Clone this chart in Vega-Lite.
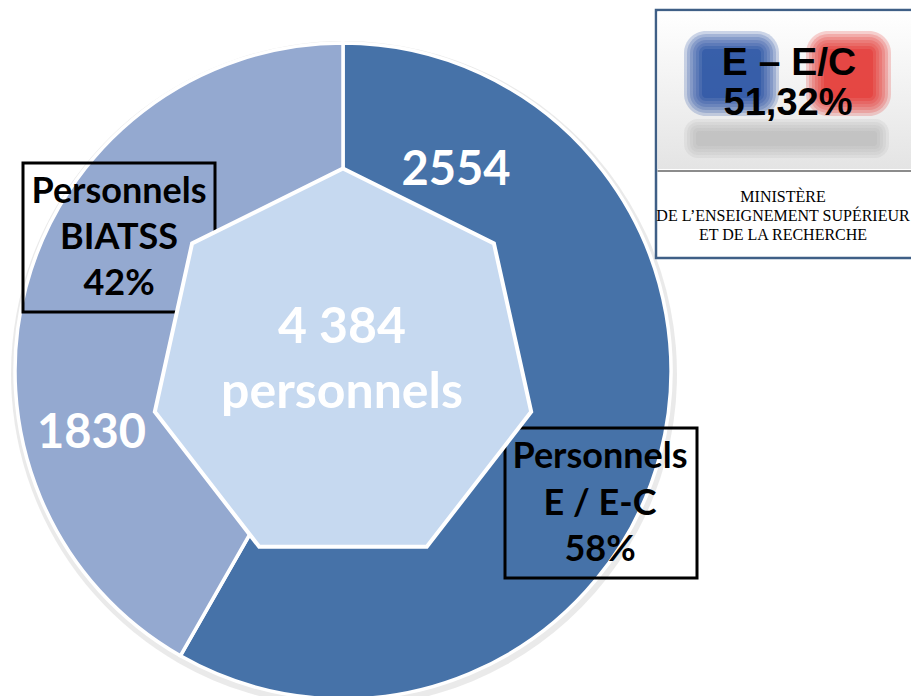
{
  "$schema": "https://vega.github.io/schema/vega-lite/v6.json",
  "width": 911,
  "height": 696,
  "autosize": "none",
  "padding": 0,
  "background": "white",
  "config": {
    "view": {"stroke": null},
    "locale": {"number": {"decimal": ",", "thousands": " ", "grouping": [3], "currency": ["", " €"]}}
  },
  "layer": [
    {
      "data": {"values": [
        {"categorie": "Personnels E / E-C", "effectif": 2554, "libelle": "Personnels\nE / E-C\n58%"},
        {"categorie": "Personnels BIATSS", "effectif": 1830, "libelle": "Personnels\nBIATSS\n42%"}
      ]},
      "transform": [
        {"stack": "effectif", "groupby": [], "sort": [{"field": "effectif", "order": "descending"}], "as": ["debut", "fin"]}
      ],
      "layer": [
        {
          "mark": {"type": "arc", "radius": 333, "fill": "#c4c4c4", "opacity": 0.35},
          "encoding": {
            "x": {"value": 344},
            "y": {"value": 374},
            "theta": {"field": "fin", "type": "quantitative", "stack": null, "scale": {"nice": false, "zero": true}},
            "theta2": {"field": "debut"}
          }
        },
        {
          "mark": {"type": "arc", "radius": 328, "stroke": "white", "strokeWidth": 3.5},
          "encoding": {
            "x": {"value": 343},
            "y": {"value": 371},
            "theta": {"field": "fin", "type": "quantitative", "stack": null, "scale": {"nice": false, "zero": true}},
            "theta2": {"field": "debut"},
            "color": {
              "field": "categorie",
              "type": "nominal",
              "scale": {"domain": ["Personnels E / E-C", "Personnels BIATSS"], "range": ["#4672A8", "#94A9D0"]},
              "legend": null
            }
          }
        },
        {
          "transform": [{"filter": "datum.categorie === 'Personnels BIATSS'"}],
          "layer": [
            {
              "mark": {"type": "rect", "fill": "transparent", "stroke": "black", "strokeWidth": 3},
              "encoding": {"x": {"value": 23}, "x2": {"value": 215}, "y": {"value": 163}, "y2": {"value": 312}}
            },
            {
              "mark": {"type": "text", "font": "Lato", "fontWeight": "bold", "fontSize": 36, "lineBreak": "\n", "lineHeight": 46, "align": "center", "baseline": "middle", "color": "black"},
              "encoding": {"x": {"value": 119}, "y": {"value": 192}, "text": {"field": "libelle", "type": "nominal"}}
            }
          ]
        },
        {
          "transform": [{"filter": "datum.categorie === 'Personnels E / E-C'"}],
          "layer": [
            {
              "mark": {"type": "rect", "fill": "transparent", "stroke": "black", "strokeWidth": 3},
              "encoding": {"x": {"value": 505}, "x2": {"value": 697}, "y": {"value": 428}, "y2": {"value": 578}}
            },
            {
              "mark": {"type": "text", "font": "Lato", "fontWeight": "bold", "fontSize": 36, "lineBreak": "\n", "lineHeight": 46.5, "align": "center", "baseline": "middle", "color": "black"},
              "encoding": {"x": {"value": 600}, "y": {"value": 457}, "text": {"field": "libelle", "type": "nominal"}}
            }
          ]
        },
        {
          "transform": [{"aggregate": [{"op": "sum", "field": "effectif", "as": "total"}]}],
          "layer": [
            {
              "mark": {
                "type": "point",
                "shape": "M0,-1L0.7583,-0.6235L0.9457,0.2225L0.4209,0.901L-0.4209,0.901L-0.9457,0.2225L-0.7583,-0.6235Z",
                "size": 158404,
                "filled": true,
                "fill": "#C6D9F0",
                "stroke": "white",
                "strokeWidth": 4,
                "opacity": 1
              },
              "encoding": {"x": {"value": 343}, "y": {"value": 367.5}}
            },
            {
              "mark": {"type": "text", "font": "Lato", "fontWeight": "bold", "fontSize": 50, "align": "center", "baseline": "alphabetic", "color": "white"},
              "encoding": {"x": {"value": 342}, "y": {"value": 343}, "text": {"field": "total", "type": "quantitative", "format": ",d"}}
            },
            {
              "mark": {"type": "text", "font": "Lato", "fontWeight": "bold", "fontSize": 50, "align": "center", "baseline": "alphabetic", "color": "white"},
              "encoding": {"x": {"value": 342}, "y": {"value": 408}, "text": {"value": "personnels"}}
            }
          ]
        },
        {
          "transform": [{"filter": "datum.categorie === 'Personnels E / E-C'"}],
          "mark": {"type": "text", "font": "Lato", "fontWeight": "bold", "fontSize": 47, "align": "center", "baseline": "alphabetic", "color": "white", "radius": 217.6, "thetaOffset": 0.5463},
          "encoding": {
            "x": {"value": 343},
            "y": {"value": 371},
            "theta": {"field": "debut", "type": "quantitative", "stack": null, "scale": {"nice": false, "zero": true}},
            "text": {"field": "effectif", "type": "quantitative", "format": "d"}
          }
        },
        {
          "transform": [{"filter": "datum.categorie === 'Personnels BIATSS'"}],
          "mark": {"type": "text", "font": "Lato", "fontWeight": "bold", "fontSize": 47, "align": "center", "baseline": "alphabetic", "color": "white", "radius": 263, "thetaOffset": 0.7557},
          "encoding": {
            "x": {"value": 343},
            "y": {"value": 371},
            "theta": {"field": "debut", "type": "quantitative", "stack": null, "scale": {"nice": false, "zero": true}},
            "text": {"field": "effectif", "type": "quantitative", "format": "d"}
          }
        }
      ]
    },
    {
      "data": {"values": [
        {"titre": "E – E/C", "taux": "51,32%", "ministere": "MINISTÈRE\nDE L’ENSEIGNEMENT SUPÉRIEUR\nET DE LA RECHERCHE"}
      ]},
      "layer": [
        {
          "mark": {"type": "rect", "fill": "white", "stroke": "#3f5f86", "strokeWidth": 2.5},
          "encoding": {"x": {"value": 656}, "x2": {"value": 918}, "y": {"value": 10}, "y2": {"value": 258}}
        },
        {
          "mark": {"type": "rect", "fill": {"gradient": "linear", "x1": 0, "y1": 0, "x2": 0, "y2": 1, "stops": [{"offset": 0, "color": "#ffffff"}, {"offset": 1, "color": "#e4e4e4"}]}},
          "encoding": {"x": {"value": 657.5}, "x2": {"value": 911}, "y": {"value": 11.5}, "y2": {"value": 169}}
        },
        {"mark": {"type": "rect", "fill": "#1f4b9f", "opacity": 0.22, "cornerRadius": 22}, "encoding": {"x": {"value": 684}, "x2": {"value": 779}, "y": {"value": 31}, "y2": {"value": 116}}},
        {"mark": {"type": "rect", "fill": "#1f4b9f", "opacity": 0.22, "cornerRadius": 19}, "encoding": {"x": {"value": 687}, "x2": {"value": 776}, "y": {"value": 34}, "y2": {"value": 113}}},
        {"mark": {"type": "rect", "fill": "#1f4b9f", "opacity": 0.22, "cornerRadius": 16}, "encoding": {"x": {"value": 690}, "x2": {"value": 773}, "y": {"value": 37}, "y2": {"value": 110}}},
        {"mark": {"type": "rect", "fill": "#1f4b9f", "opacity": 0.22, "cornerRadius": 13}, "encoding": {"x": {"value": 693}, "x2": {"value": 770}, "y": {"value": 40}, "y2": {"value": 107}}},
        {"mark": {"type": "rect", "fill": "#1f4b9f", "opacity": 0.22, "cornerRadius": 10}, "encoding": {"x": {"value": 696}, "x2": {"value": 767}, "y": {"value": 43}, "y2": {"value": 104}}},
        {"mark": {"type": "rect", "fill": "#1f4b9f", "opacity": 0.3, "cornerRadius": 7}, "encoding": {"x": {"value": 699}, "x2": {"value": 764}, "y": {"value": 46}, "y2": {"value": 101}}},
        {"mark": {"type": "rect", "fill": "#1f4b9f", "opacity": 0.4, "cornerRadius": 4}, "encoding": {"x": {"value": 702}, "x2": {"value": 761}, "y": {"value": 49}, "y2": {"value": 98}}},
        {"mark": {"type": "rect", "fill": "#e4302c", "opacity": 0.22, "cornerRadius": 22}, "encoding": {"x": {"value": 806}, "x2": {"value": 891}, "y": {"value": 31}, "y2": {"value": 116}}},
        {"mark": {"type": "rect", "fill": "#e4302c", "opacity": 0.22, "cornerRadius": 19}, "encoding": {"x": {"value": 809}, "x2": {"value": 888}, "y": {"value": 34}, "y2": {"value": 113}}},
        {"mark": {"type": "rect", "fill": "#e4302c", "opacity": 0.22, "cornerRadius": 16}, "encoding": {"x": {"value": 812}, "x2": {"value": 885}, "y": {"value": 37}, "y2": {"value": 110}}},
        {"mark": {"type": "rect", "fill": "#e4302c", "opacity": 0.22, "cornerRadius": 13}, "encoding": {"x": {"value": 815}, "x2": {"value": 882}, "y": {"value": 40}, "y2": {"value": 107}}},
        {"mark": {"type": "rect", "fill": "#e4302c", "opacity": 0.22, "cornerRadius": 10}, "encoding": {"x": {"value": 818}, "x2": {"value": 879}, "y": {"value": 43}, "y2": {"value": 104}}},
        {"mark": {"type": "rect", "fill": "#e4302c", "opacity": 0.3, "cornerRadius": 7}, "encoding": {"x": {"value": 821}, "x2": {"value": 876}, "y": {"value": 46}, "y2": {"value": 101}}},
        {"mark": {"type": "rect", "fill": "#e4302c", "opacity": 0.4, "cornerRadius": 4}, "encoding": {"x": {"value": 824}, "x2": {"value": 873}, "y": {"value": 49}, "y2": {"value": 98}}},
        {"mark": {"type": "rect", "fill": "#b4b4b4", "opacity": 0.18, "cornerRadius": 14}, "encoding": {"x": {"value": 684}, "x2": {"value": 889}, "y": {"value": 119}, "y2": {"value": 158}}},
        {"mark": {"type": "rect", "fill": "#b4b4b4", "opacity": 0.18, "cornerRadius": 11}, "encoding": {"x": {"value": 687}, "x2": {"value": 886}, "y": {"value": 122}, "y2": {"value": 155}}},
        {"mark": {"type": "rect", "fill": "#b4b4b4", "opacity": 0.18, "cornerRadius": 8}, "encoding": {"x": {"value": 690}, "x2": {"value": 883}, "y": {"value": 125}, "y2": {"value": 152}}},
        {"mark": {"type": "rect", "fill": "#b4b4b4", "opacity": 0.2, "cornerRadius": 5}, "encoding": {"x": {"value": 693}, "x2": {"value": 880}, "y": {"value": 128}, "y2": {"value": 149}}},
        {"mark": {"type": "rect", "fill": "#b4b4b4", "opacity": 0.25, "cornerRadius": 3}, "encoding": {"x": {"value": 696}, "x2": {"value": 877}, "y": {"value": 131}, "y2": {"value": 146}}},
        {
          "mark": {"type": "rule", "stroke": "#8c8c8c", "strokeWidth": 2},
          "encoding": {"x": {"value": 657.5}, "x2": {"value": 911}, "y": {"value": 171}}
        },
        {
          "mark": {"type": "text", "font": "Liberation Sans", "fontWeight": "bold", "fontSize": 39, "align": "center", "baseline": "alphabetic", "color": "black"},
          "encoding": {"x": {"value": 789}, "y": {"value": 75}, "text": {"field": "titre", "type": "nominal"}}
        },
        {
          "mark": {"type": "text", "font": "Liberation Sans", "fontWeight": "bold", "fontSize": 38, "align": "center", "baseline": "alphabetic", "color": "black"},
          "encoding": {"x": {"value": 788}, "y": {"value": 115}, "text": {"field": "taux", "type": "nominal"}}
        },
        {
          "mark": {"type": "text", "font": "Liberation Serif", "fontSize": 16, "lineBreak": "\n", "lineHeight": 19, "align": "center", "baseline": "middle", "color": "#000000"},
          "encoding": {"x": {"value": 783}, "y": {"value": 197}, "text": {"field": "ministere", "type": "nominal"}}
        }
      ]
    }
  ]
}
